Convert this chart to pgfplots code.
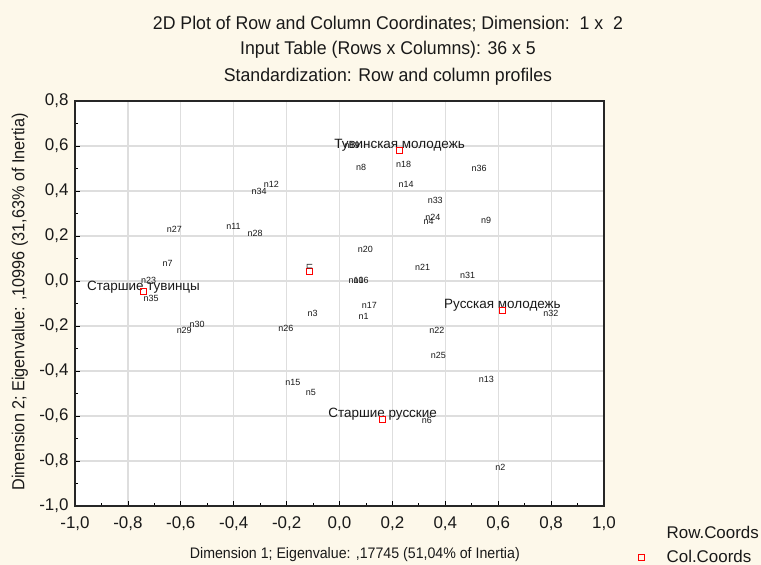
\documentclass[border=0pt]{standalone}
\usepackage{fontspec}
\setmainfont{Liberation Sans}
\newfontfamily\titlefont[FakeStretch=0.96]{Liberation Sans}
\newfontfamily\labfont[FakeStretch=0.93]{Liberation Sans}
\usepackage{pgfplots}
\usepackage{pgfplotstable}
\pgfplotsset{compat=1.18}
\definecolor{cream}{RGB}{253,248,234}
\definecolor{gridgray}{RGB}{222,222,222}
\definecolor{txt}{RGB}{25,25,25}

\pgfplotstableread{
x y label
0.091 -0.157 n1
0.608 -0.828 n2
-0.102 -0.144 n3
0.337 0.264 n4
-0.108 -0.495 n5
0.330 -0.618 n6
-0.650 0.079 n7
0.082 0.504 n8
0.554 0.268 n9
0.063 0.004 n10
-0.401 0.241 n11
-0.258 0.430 n12
0.555 -0.436 n13
0.252 0.430 n14
-0.176 -0.450 n15
0.082 0.004 n16
0.113 -0.107 n17
0.242 0.519 n18
0.048 0.604 n19
0.098 0.142 n20
0.314 0.061 n21
0.368 -0.218 n22
-0.722 0.004 n23
0.353 0.283 n24
0.374 -0.332 n25
-0.203 -0.209 n26
-0.624 0.230 n27
-0.319 0.212 n28
-0.587 -0.221 n29
-0.538 -0.191 n30
0.484 0.024 n31
0.799 -0.144 n32
0.362 0.360 n33
-0.304 0.396 n34
-0.712 -0.079 n35
0.528 0.502 n36
}\rowdata

\pgfplotstableread[col sep=comma]{
x,y,label
0.227,0.582,Тувинская молодежь
-0.741,-0.048,Старшие тувинцы
0.616,-0.132,Русская молодежь
0.163,-0.613,Старшие русские
}\coldata

\begin{document}
\begin{tikzpicture}[x=1bp,y=1bp]
\fill[cream] (0,0) rectangle (761,565);
\path[use as bounding box] (0,0) rectangle (761,565);
\begin{axis}[
  at={(75bp,59bp)}, anchor=south west,
  width=529bp, height=405bp, scale only axis,
  xmin=-1, xmax=1, ymin=-1, ymax=0.8,
  xtick={-1,-0.8,-0.6,-0.4,-0.2,0,0.2,0.4,0.6,0.8,1},
  ytick={-1,-0.8,-0.6,-0.4,-0.2,0,0.2,0.4,0.6,0.8},
  minor x tick num=1, minor y tick num=1,
  grid=major, major grid style={gridgray, line width=1.2bp},
  axis background/.style={fill=white},
  tick align=inside, xtick pos=bottom, ytick pos=left,
  major tick length=5bp, minor tick length=3bp,
  tick style={black, line width=0.8bp},
  axis line style={black!85, line width=1.2bp},
  ticklabel style={font=\fontsize{17}{18}\selectfont, text=txt},
  xticklabel style={yshift=-7bp},
  yticklabel style={xshift=-3bp},
  /pgf/number format/use comma,
  /pgf/number format/fixed,
  /pgf/number format/fixed zerofill,
  /pgf/number format/precision=1,
  /pgf/number format/assume math mode=true,
  xlabel={Dimension 1; Eigenvalue: ,17745 (51,04\% of Inertia)},
  ylabel={Dimension 2; Eigenvalue: ,10996 (31,63\% of Inertia)},
  xlabel style={at={(axis description cs:0.529,-0.121)}, anchor=center, font=\labfont\fontsize{15.3}{17}\selectfont, text=txt},
  ylabel style={at={(axis description cs:-0.104,0.504)}, anchor=center, rotate=0, font=\labfont\fontsize{17.5}{19}\selectfont, text=txt},
  legend style={at={(axis description cs:1.049,-0.04)}, anchor=north west, draw=none, fill=none,
    font=\fontsize{17}{19}\selectfont, text=txt, row sep=6bp, cells={anchor=west}},
  clip=false,
]
\addplot[only marks, mark=none, legend image code/.code={},
  nodes near coords, point meta=explicit symbolic,
  nodes near coords style={anchor=center, font=\fontsize{9}{10}\selectfont, text=txt, inner sep=0pt}]
  table[x=x, y=y, meta=label] {\rowdata};
\addlegendentry{\hspace*{20bp}Row.Coords}
\addplot[only marks, mark=square, mark size=3bp, red, mark options={line width=0.8bp, draw=red},
  nodes near coords, point meta=explicit symbolic,
  nodes near coords style={anchor=center, yshift=5bp, font=\fontsize{13.5}{15}\selectfont, text=txt, inner sep=0pt}]
  table[x=x, y=y, meta=label] {\coldata};
\addlegendentry{\hspace*{20bp}Col.Coords}
\addplot[only marks, mark=square, mark size=3bp, red, mark options={line width=0.8bp, draw=red}, forget plot]
  table[x=x, y=y] {\coldata};
\addplot[only marks, mark=square, mark size=3bp, red, mark options={line width=0.8bp, draw=red}, forget plot,
  nodes near coords={П}, nodes near coords style={anchor=center, yshift=4bp, rotate=90, font=\fontsize{8}{9}\selectfont, text=txt, inner sep=0pt}]
  coordinates {(-0.113,0.044)};
\end{axis}
\node[font=\titlefont\fontsize{18.5}{20}\selectfont, text=txt] at (388,541) {2D Plot of Row and Column Coordinates; Dimension:\ \ 1 x\ \ 2};
\node[font=\titlefont\fontsize{18.5}{20}\selectfont, text=txt] at (388,515) {Input Table (Rows x Columns): 36 x 5};
\node[font=\titlefont\fontsize{18.5}{20}\selectfont, text=txt] at (388,488) {Standardization: Row and column profiles};
\end{tikzpicture}
\end{document}
